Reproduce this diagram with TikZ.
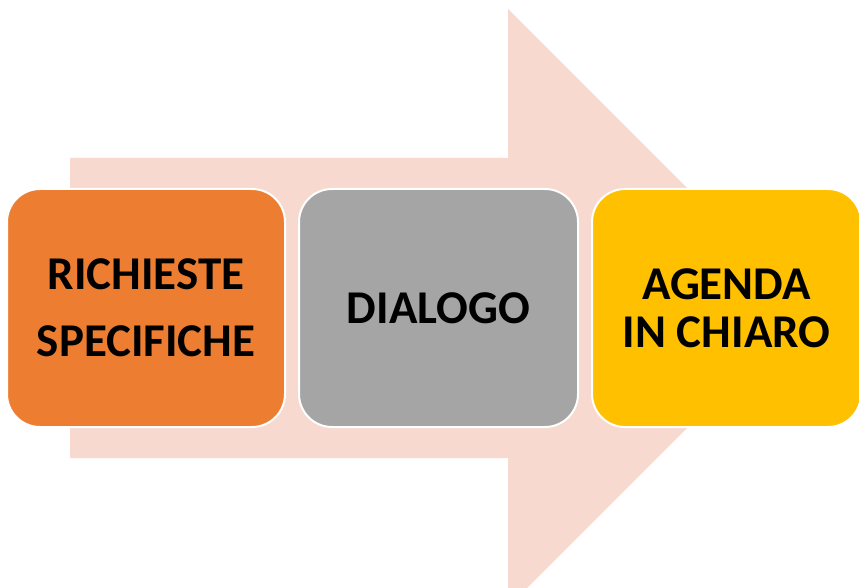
\documentclass[tikz,border=0pt]{standalone}
\usepackage{fontspec}
\setmainfont{Carlito}
\definecolor{salmon}{HTML}{F8D9CF}
\definecolor{orangeacc}{HTML}{ED7D31}
\definecolor{greyacc}{HTML}{A5A5A5}
\definecolor{goldacc}{HTML}{FFC000}

\tikzset{
  stepbox/.style={draw=white, line width=2pt, rounded corners=33pt,
    minimum height=238pt, inner sep=0pt, align=center,
    font=\bfseries\fontsize{47}{56}\selectfont},
}

\begin{document}
\begin{tikzpicture}[x=1pt, y=-1pt]
\useasboundingbox (0,0) rectangle (859,588);
\clip (0,0) rectangle (859,588);

% Big arrow behind the steps
\fill[salmon] (70,158) -- (508,158) -- (508,9) -- (807,308)
  -- (508,607) -- (508,458) -- (70,458) -- cycle;

% Steps
\node[stepbox, fill=orangeacc, minimum width=278pt] (richieste) at (146,308)
  {RICHIESTE\\[11pt]SPECIFICHE};
\node[stepbox, fill=greyacc, minimum width=279pt] (dialogo) at (438.5,308)
  {DIALOGO};
\node[stepbox, fill=goldacc, minimum width=269pt] (agenda) at (726.5,308)
  {AGENDA\\[-8pt]IN CHIARO};

\end{tikzpicture}
\end{document}
